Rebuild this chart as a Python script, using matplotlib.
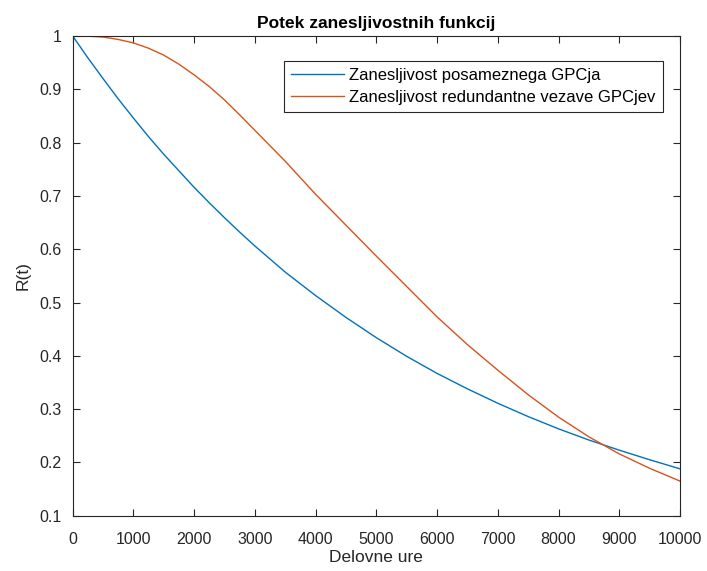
import numpy as np
import matplotlib
matplotlib.use("Agg")
from matplotlib import pyplot as plt

# operating hours and reliability values
hours = [0, 250, 500, 750, 1000, 1250, 1500, 1750, 2000, 2250, 2500, 2750, 3000,
         3500, 4000, 4500, 5000, 5500, 6000, 6500, 7000, 7500, 8000, 8500, 9000, 9500, 10000]
r_single = [1.000, 0.959, 0.920, 0.882, 0.846, 0.811, 0.778, 0.747, 0.716, 0.687, 0.659, 0.632, 0.606,
            0.557, 0.513, 0.472, 0.434, 0.399, 0.367, 0.338, 0.311, 0.286, 0.263, 0.242, 0.223, 0.205, 0.188]
r_redundant = [1.000, 0.9996, 0.998, 0.9935, 0.987, 0.977, 0.964, 0.947, 0.927, 0.905, 0.880, 0.852, 0.823,
               0.765, 0.703, 0.645, 0.587, 0.530, 0.473, 0.421, 0.373, 0.327, 0.285, 0.248, 0.216, 0.189, 0.165]

x_ticks = [0, 1000, 2000, 3000, 4000, 5000, 6000, 7000, 8000, 9000, 10000]
y_ticks = [0.1, 0.2, 0.3, 0.4, 0.5, 0.6, 0.7, 0.8, 0.9, 1.0]
y_tick_labels = ["0.1", "0.2", "0.3", "0.4", "0.5", "0.6", "0.7", "0.8", "0.9", "1"]

plt.rcParams['font.family'] = ['Liberation Sans', 'DejaVu Sans']
dark = '#262626'

fig = plt.figure(figsize=(7.07, 5.71), dpi=100)
ax = fig.add_axes([0.1028, 0.0968, 0.8590, 0.8402])

ax.plot(hours, r_single, color='#0072BD', lw=1.0, label='Zanesljivost posameznega GPCja')
ax.plot(hours, r_redundant, color='#D95319', lw=1.0, label='Zanesljivost redundantne vezave GPCjev')

ax.set_xlim(0, 10000)
ax.set_ylim(0.1, 1.0)
ax.set_xticks(x_ticks)
ax.set_xticklabels([str(t) for t in x_ticks])
ax.set_yticks(y_ticks)
ax.set_yticklabels(y_tick_labels)
ax.tick_params(direction='in', top=True, right=True, length=5, width=0.8,
               colors=dark, labelsize=11.5)
ax.tick_params(axis='x', pad=12)
ax.tick_params(axis='y', pad=8)
for s in ax.spines.values():
    s.set_color(dark)
    s.set_linewidth(0.8)

ax.set_title('Potek zanesljivostnih funkcij', fontsize=12.5, fontweight='bold', pad=6)
ax.set_xlabel('Delovne ure', fontsize=12.5, color=dark, labelpad=2)
ax.set_ylabel('R(t)', fontsize=12.5, color=dark, labelpad=6)

leg = ax.legend(loc='upper right', bbox_to_anchor=(0.9725, 0.9485), borderaxespad=0,
                fontsize=12, fancybox=False, framealpha=1, edgecolor=dark,
                handlelength=3.2, handletextpad=0.3, borderpad=0.45, labelspacing=0.38)
leg.get_frame().set_linewidth(0.8)

fig.savefig('out.png', dpi=100)
